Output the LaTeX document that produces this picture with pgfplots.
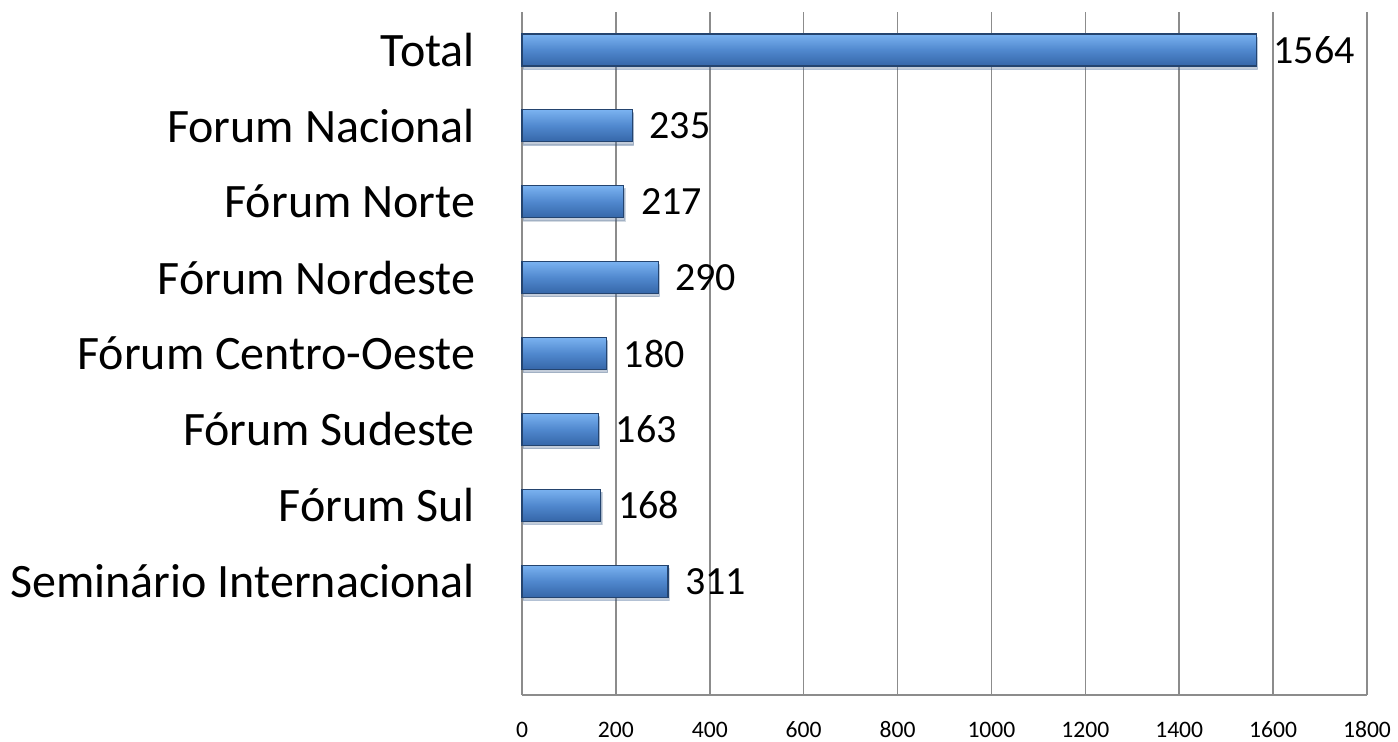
\documentclass[border=0pt]{standalone}
\usepackage{pgfplots}
\pgfplotsset{compat=1.18}
\usetikzlibrary{shadows}
\usepackage{fontspec}
\setmainfont{Carlito}
\definecolor{gridgray}{HTML}{8C8C8C}
\definecolor{bartop}{HTML}{7AB2F0}
\definecolor{barmid}{HTML}{5088CE}
\definecolor{barbot}{HTML}{3566A8}
\definecolor{barline}{HTML}{24446F}
\begin{document}
\begin{tikzpicture}
\begin{axis}[
  scale only axis,
  width=422.5pt, height=341.5pt,
  xbar, bar width=16pt, bar shift=0pt,
  xmin=0, xmax=1800,
  ymin=-0.5, ymax=8.5,
  xtick={0,200,...,1800},
  ytick={1,2,3,4,5,6,7,8},
  yticklabels={Seminário Internacional,Fórum Sul,Fórum Sudeste,Fórum Centro-Oeste,Fórum Nordeste,Fórum Norte,Forum Nacional,Total},
  axis x line*=bottom, axis y line*=left,
  axis line style={gridgray, line width=0.8pt},
  xmajorgrids, grid style={gridgray, line width=0.8pt},
  major tick length=0pt,
  /pgf/number format/assume math mode=true,
  /pgf/number format/1000 sep={},
  xticklabel style={font=\fontsize{11.8}{13}\selectfont, anchor=base, yshift=-21.5pt},
  yticklabel style={font=\fontsize{24}{28}\selectfont, xshift=-20pt},
  nodes near coords,
  nodes near coords style={font=\fontsize{20}{24}\selectfont, anchor=west, xshift=5pt, text=black},
  clip=false,
  barstyle/.style={draw=barline, line width=0.6pt, top color=bartop, bottom color=barbot, middle color=barmid,
    drop shadow={shadow xshift=0.6pt, shadow yshift=-1.6pt, opacity=0.2}},
]
\addplot[barstyle] coordinates {(311,1)};
\addplot[barstyle] coordinates {(168,2)};
\addplot[barstyle] coordinates {(163,3)};
\addplot[barstyle] coordinates {(180,4)};
\addplot[barstyle] coordinates {(290,5)};
\addplot[barstyle] coordinates {(217,6)};
\addplot[barstyle] coordinates {(235,7)};
\addplot[barstyle] coordinates {(1564,8)};
\end{axis}
\pgfresetboundingbox
\path ([shift={(-261pt,-23.5pt)}]current axis.south west) rectangle ([shift={(15.5pt,6pt)}]current axis.north east);
\end{tikzpicture}
\end{document}
